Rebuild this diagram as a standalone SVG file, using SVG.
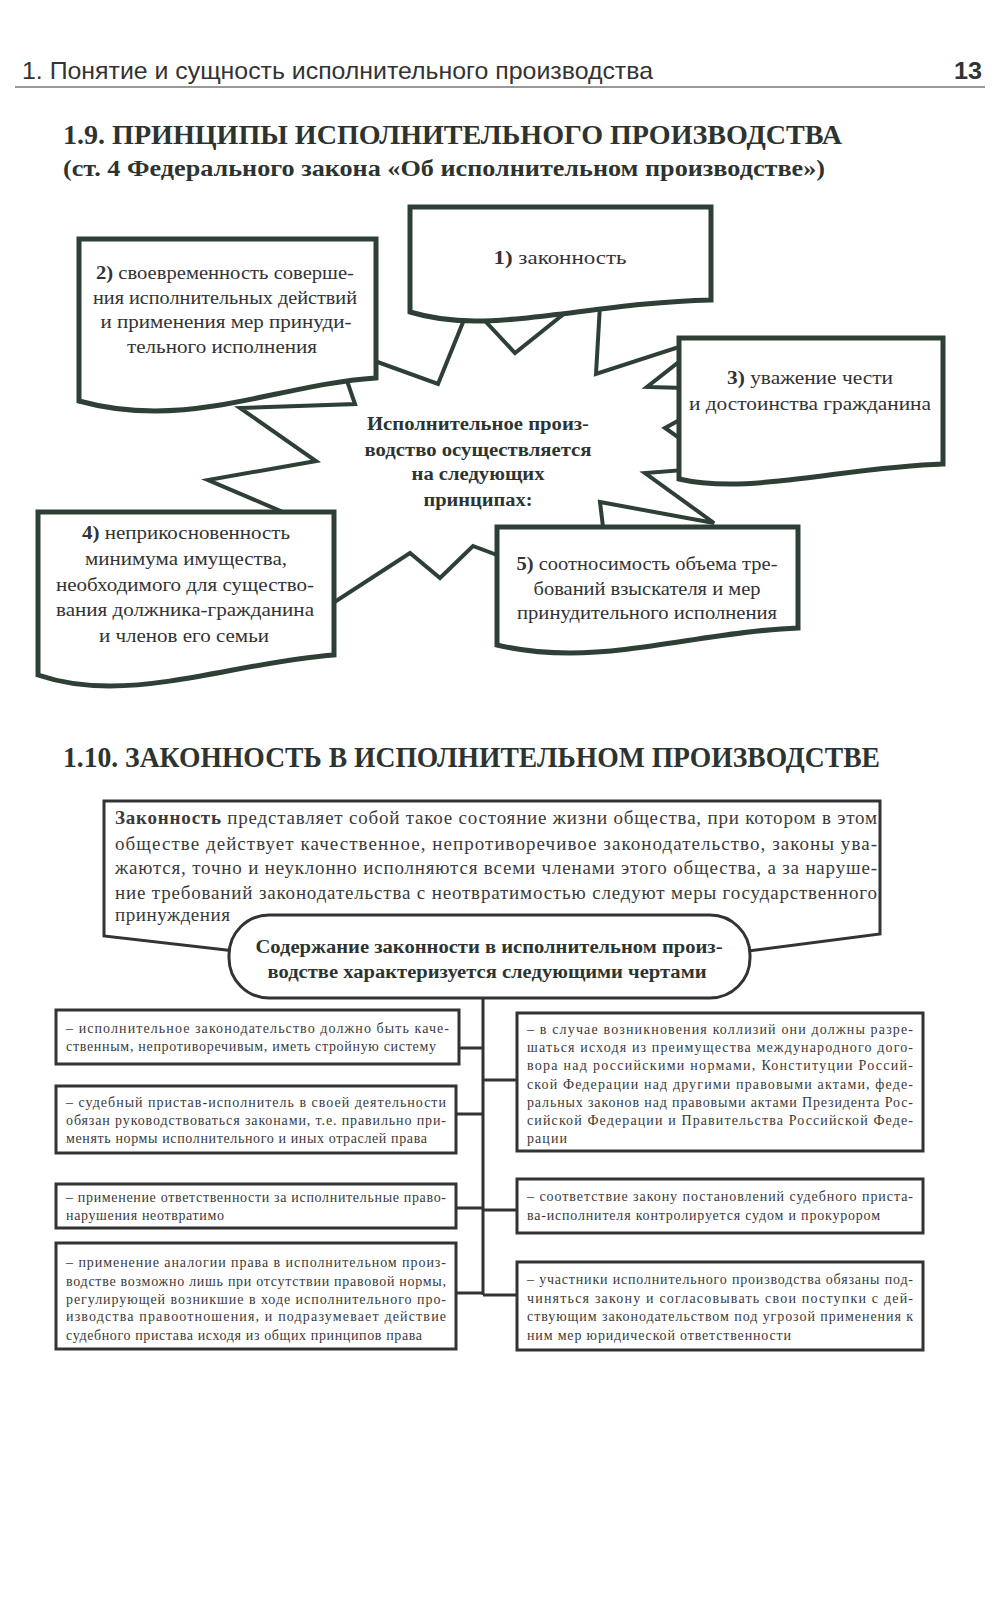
<svg xmlns="http://www.w3.org/2000/svg" width="1000" height="1600" viewBox="0 0 1000 1600">
<style>
  .hdr{font-family:"Liberation Sans",Arial,sans-serif;fill:#333;}
  .ttl{font-family:"Liberation Serif","Times New Roman",serif;font-weight:bold;fill:#2d3430;}
  .bx{fill:#fff;stroke:#2e4035;stroke-width:5;stroke-linejoin:miter;}
  .star{fill:#fff;stroke:#2e4035;stroke-width:4;stroke-linejoin:miter;}
  .t1{font-family:"Liberation Serif","Times New Roman",serif;font-size:19px;fill:#333;text-anchor:middle;}
  .tb{font-family:"Liberation Serif","Times New Roman",serif;font-size:18px;font-weight:bold;fill:#2d3430;text-anchor:middle;}
  .sb{fill:#fff;stroke:#333;stroke-width:3;}
  .t2{font-family:"Liberation Serif","Times New Roman",serif;font-size:14px;fill:#3a3a3a;}
  .td{font-family:"Liberation Serif","Times New Roman",serif;font-size:19px;fill:#3a3a3a;}
  .conn{fill:none;stroke:#333;stroke-width:3;}
</style>

<g id="header">
  <text class="hdr" x="22" y="79" font-size="24" textLength="631" lengthAdjust="spacingAndGlyphs">1. Понятие и сущность исполнительного производства</text>
  <text class="hdr" x="954" y="79" font-size="24" font-weight="bold" textLength="28" lengthAdjust="spacingAndGlyphs">13</text>
  <line x1="15" y1="87" x2="985" y2="87" stroke="#777" stroke-width="1.5"/>
</g>

<g id="title-1-9">
  <text class="ttl" x="63" y="144" font-size="28" textLength="779" lengthAdjust="spacingAndGlyphs">1.9. ПРИНЦИПЫ ИСПОЛНИТЕЛЬНОГО ПРОИЗВОДСТВА</text>
  <text class="ttl" x="63" y="176" font-size="24" textLength="762" lengthAdjust="spacingAndGlyphs">(ст. 4 Федерального закона «Об исполнительном производстве»)</text>
</g>

<g id="center-star">
  <polygon class="star" points="372,360 438,384 470,305 515,353 575,305 600,305 596,374 685,345 685,357 647,387 685,388 685,417 665,428 685,442 685,470 645,473 714,523 600,502 604,535 505,558 473,546 440,578 410,553 330,605 297,518 208,480 316,461 240,408 355,404 345,375"/>
  <text class="tb" x="478" y="430" textLength="222" lengthAdjust="spacingAndGlyphs">Исполнительное произ-</text>
  <text class="tb" x="478" y="456" textLength="227" lengthAdjust="spacingAndGlyphs">водство осуществляется</text>
  <text class="tb" x="478" y="480" textLength="133" lengthAdjust="spacingAndGlyphs">на следующих</text>
  <text class="tb" x="478" y="506" textLength="109" lengthAdjust="spacingAndGlyphs">принципах:</text>
</g>

<g id="principle-1">
  <path class="bx" d="M410 207 H711 V300 C620 302 540 321 475 321 Q440 321 410 312 Z"/>
  <text class="t1" x="560" y="264" textLength="133" lengthAdjust="spacingAndGlyphs"><tspan font-weight="bold">1)</tspan> законность</text>
</g>

<g id="principle-2">
  <path class="bx" d="M79 239 H376 V378 C300 383 230 411 155 411 Q115 411 79 401 Z"/>
  <text class="t1" x="225" y="279" textLength="258" lengthAdjust="spacingAndGlyphs"><tspan font-weight="bold">2)</tspan> своевременность соверше-</text>
  <text class="t1" x="225" y="304" textLength="264" lengthAdjust="spacingAndGlyphs">ния исполнительных действий</text>
  <text class="t1" x="226" y="328" textLength="251" lengthAdjust="spacingAndGlyphs">и применения мер принуди-</text>
  <text class="t1" x="222" y="353" textLength="190" lengthAdjust="spacingAndGlyphs">тельного исполнения</text>
</g>

<g id="principle-3">
  <path class="bx" d="M679 338 H943 V464 C870 466 790 484 730 484 Q700 484 679 479 Z"/>
  <text class="t1" x="810" y="384" textLength="166" lengthAdjust="spacingAndGlyphs"><tspan font-weight="bold">3)</tspan> уважение чести</text>
  <text class="t1" x="810" y="410" textLength="242" lengthAdjust="spacingAndGlyphs">и достоинства гражданина</text>
</g>

<g id="principle-4">
  <path class="bx" d="M38 512 H334 V655 C260 660 180 686 110 686 Q70 686 38 675 Z"/>
  <text class="t1" x="186" y="539" textLength="208" lengthAdjust="spacingAndGlyphs"><tspan font-weight="bold">4)</tspan> неприкосновенность</text>
  <text class="t1" x="186" y="565" textLength="202" lengthAdjust="spacingAndGlyphs">минимума имущества,</text>
  <text class="t1" x="185" y="591" textLength="258" lengthAdjust="spacingAndGlyphs">необходимого для существо-</text>
  <text class="t1" x="185" y="616" textLength="258" lengthAdjust="spacingAndGlyphs">вания должника-гражданина</text>
  <text class="t1" x="184" y="642" textLength="170" lengthAdjust="spacingAndGlyphs">и членов его семьи</text>
</g>

<g id="principle-5">
  <path class="bx" d="M497 527 H798 V628 C720 631 640 653 570 653 Q530 653 497 645 Z"/>
  <text class="t1" x="647" y="570" textLength="261" lengthAdjust="spacingAndGlyphs"><tspan font-weight="bold">5)</tspan> соотносимость объема тре-</text>
  <text class="t1" x="647" y="595" textLength="227" lengthAdjust="spacingAndGlyphs">бований взыскателя и мер</text>
  <text class="t1" x="647" y="619" textLength="260" lengthAdjust="spacingAndGlyphs">принудительного исполнения</text>
</g>

<g id="title-1-10">
  <text class="ttl" x="63" y="767" font-size="30" textLength="817" lengthAdjust="spacingAndGlyphs">1.10. ЗАКОННОСТЬ В ИСПОЛНИТЕЛЬНОМ ПРОИЗВОДСТВЕ</text>
</g>

<g id="definition">
  <path fill="#fff" stroke="#333" stroke-width="3" d="M235 951 L104 936 V801 H880 V934 L748 951"/>
  <text class="td" x="115" y="824" textLength="762" lengthAdjust="spacing"><tspan font-weight="bold">Законность</tspan> представляет собой такое состояние жизни общества, при котором в этом</text>
  <text class="td" x="115" y="850" textLength="762" lengthAdjust="spacing">обществе действует качественное, непротиворечивое законодательство, законы ува-</text>
  <text class="td" x="115" y="874" textLength="762" lengthAdjust="spacing">жаются, точно и неуклонно исполняются всеми членами этого общества, а за наруше-</text>
  <text class="td" x="115" y="899" textLength="762" lengthAdjust="spacing">ние требований законодательства с неотвратимостью следуют меры государственного</text>
  <text class="td" x="115" y="921" textLength="115" lengthAdjust="spacing">принуждения</text>
</g>

<g id="features-header">
  <rect x="229" y="915" width="521" height="83" rx="40" ry="40" fill="#fff" stroke="#333" stroke-width="3"/>
  <text class="tb" x="489" y="953" font-size="19" textLength="467" lengthAdjust="spacingAndGlyphs">Содержание законности в исполнительном произ-</text>
  <text class="tb" x="487" y="978" font-size="19" textLength="439" lengthAdjust="spacingAndGlyphs">водстве характеризуется следующими чертами</text>
</g>

<g id="connectors">
  <path class="conn" d="M483 998 V1295"/>
  <path class="conn" d="M459 1048 H483"/>
  <path class="conn" d="M456 1114 H483"/>
  <path class="conn" d="M456 1208 H483"/>
  <path class="conn" d="M456 1293 H483"/>
  <path class="conn" d="M483 1080 H517"/>
  <path class="conn" d="M483 1210 H517"/>
  <path class="conn" d="M483 1295 H517"/>
</g>

<g id="feature-l1">
  <rect class="sb" x="56" y="1010" width="403" height="54"/>
  <text class="t2" x="66" y="1033" textLength="383" lengthAdjust="spacing">– исполнительное законодательство должно быть каче-</text>
  <text class="t2" x="66" y="1051" textLength="370" lengthAdjust="spacing">ственным, непротиворечивым, иметь стройную систему</text>
</g>

<g id="feature-l2">
  <rect class="sb" x="56" y="1086" width="400" height="67"/>
  <text class="t2" x="66" y="1107" textLength="380" lengthAdjust="spacing">– судебный пристав-исполнитель в своей деятельности</text>
  <text class="t2" x="66" y="1125" textLength="380" lengthAdjust="spacing">обязан руководствоваться законами, т.е. правильно при-</text>
  <text class="t2" x="66" y="1143" textLength="361" lengthAdjust="spacing">менять нормы исполнительного и иных отраслей права</text>
</g>

<g id="feature-l3">
  <rect class="sb" x="56" y="1184" width="400" height="44"/>
  <text class="t2" x="66" y="1202" textLength="380" lengthAdjust="spacing">– применение ответственности за исполнительные право-</text>
  <text class="t2" x="66" y="1220" textLength="158" lengthAdjust="spacing">нарушения неотвратимо</text>
</g>

<g id="feature-l4">
  <rect class="sb" x="56" y="1243" width="400" height="106"/>
  <text class="t2" x="66" y="1267" textLength="380" lengthAdjust="spacing">– применение аналогии права в исполнительном произ-</text>
  <text class="t2" x="66" y="1286" textLength="380" lengthAdjust="spacing">водстве возможно лишь при отсутствии правовой нормы,</text>
  <text class="t2" x="66" y="1304" textLength="380" lengthAdjust="spacing">регулирующей возникшие в ходе исполнительного про-</text>
  <text class="t2" x="66" y="1321" textLength="380" lengthAdjust="spacing">изводства правоотношения, и подразумевает действие</text>
  <text class="t2" x="66" y="1340" textLength="356" lengthAdjust="spacing">судебного пристава исходя из общих принципов права</text>
</g>

<g id="feature-r1">
  <rect class="sb" x="517" y="1013" width="406" height="138"/>
  <text class="t2" x="527" y="1034" textLength="386" lengthAdjust="spacing">– в случае возникновения коллизий они должны разре-</text>
  <text class="t2" x="527" y="1052" textLength="386" lengthAdjust="spacing">шаться исходя из преимущества международного дого-</text>
  <text class="t2" x="527" y="1070" textLength="386" lengthAdjust="spacing">вора над российскими нормами, Конституции Россий-</text>
  <text class="t2" x="527" y="1089" textLength="386" lengthAdjust="spacing">ской Федерации над другими правовыми актами,  феде-</text>
  <text class="t2" x="527" y="1107" textLength="386" lengthAdjust="spacing">ральных законов над правовыми актами Президента Рос-</text>
  <text class="t2" x="527" y="1125" textLength="386" lengthAdjust="spacing">сийской Федерации и Правительства Российской Феде-</text>
  <text class="t2" x="527" y="1143" textLength="40" lengthAdjust="spacing">рации</text>
</g>

<g id="feature-r2">
  <rect class="sb" x="517" y="1179" width="406" height="54"/>
  <text class="t2" x="527" y="1201" textLength="386" lengthAdjust="spacing">– соответствие закону постановлений судебного приста-</text>
  <text class="t2" x="527" y="1220" textLength="353" lengthAdjust="spacing">ва-исполнителя контролируется судом и прокурором</text>
</g>

<g id="feature-r3">
  <rect class="sb" x="517" y="1262" width="406" height="88"/>
  <text class="t2" x="527" y="1284" textLength="386" lengthAdjust="spacing">– участники исполнительного производства обязаны под-</text>
  <text class="t2" x="527" y="1303" textLength="386" lengthAdjust="spacing">чиняться закону и согласовывать свои поступки с дей-</text>
  <text class="t2" x="527" y="1321" textLength="386" lengthAdjust="spacing">ствующим законодательством под угрозой применения к</text>
  <text class="t2" x="527" y="1340" textLength="264" lengthAdjust="spacing">ним мер юридической ответственности</text>
</g>
</svg>
